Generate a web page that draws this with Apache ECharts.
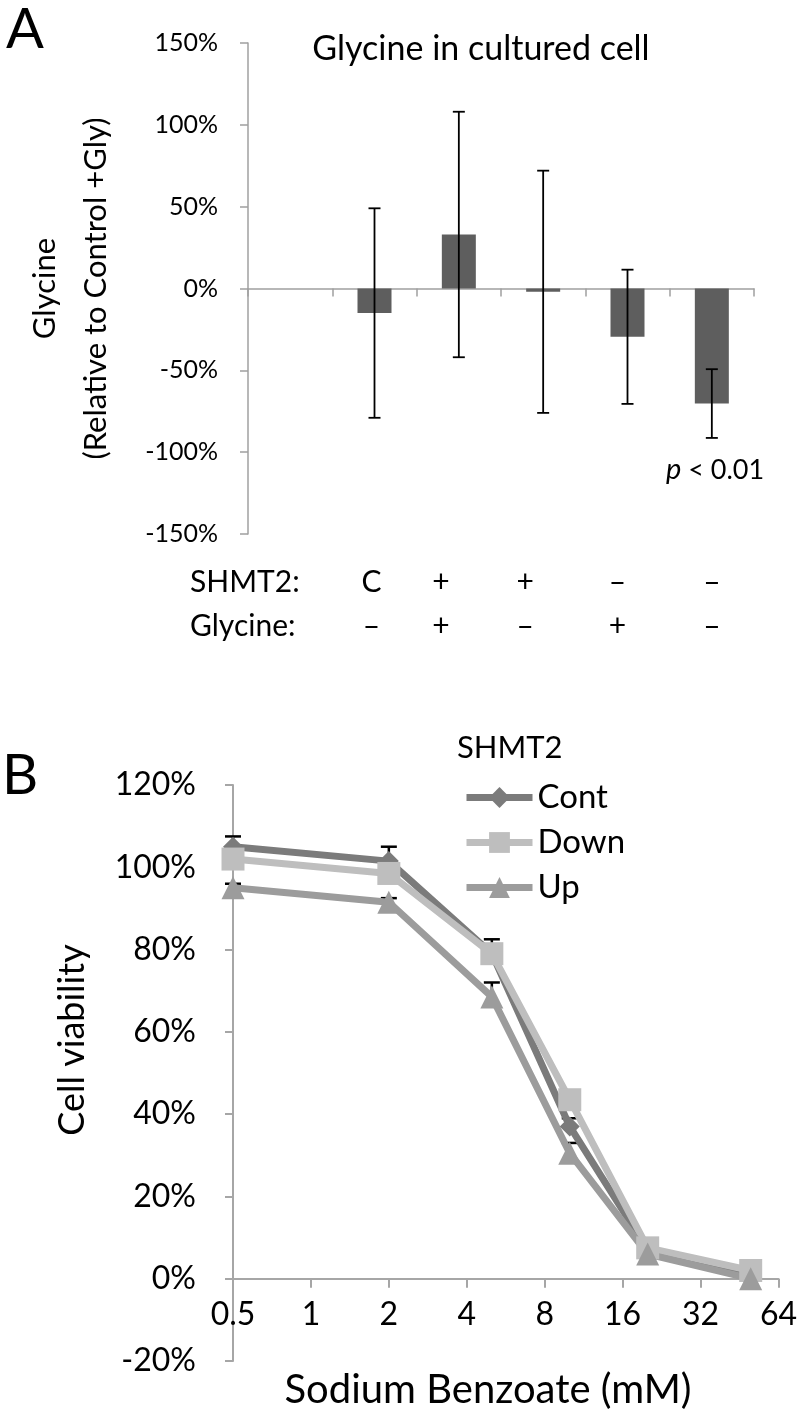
<!DOCTYPE html>
<html><head><meta charset="utf-8">
<script src="https://cdn.jsdelivr.net/npm/echarts@6/dist/echarts.min.js"></script>
<style>html,body{margin:0;padding:0;background:#fff}#c{width:800px;height:1414px}</style>
</head><body><div id="c"></div>
<script>
// ---------- Panel A data ----------
const aCategories = ['blank', 'c1', 'c2', 'c3', 'c4', 'c5'];
const shmt2Row = ['', 'C', '+', '+', '–', '–'];
const glycineRow = ['', '–', '+', '–', '+', '–'];
const aMeans = [0, -15, 33, -2, -29.5, -70.3];
const aErrors = [null, 64, 75, 74, 41, 21];
const aTicks = [-150, -100, -50, 0, 50, 100, 150];

// ---------- Panel B data ----------
const doses = [0.5, 2, 5, 10, 20, 50];
const contVals = [105, 101.5, 79, 37, 7, 0.5];
const downVals = [102, 98.5, 79, 43.5, 7.5, 2];
const upVals = [95, 91.5, 68.5, 30.5, 6, 0];
const contErr = [2.5, 3.5, 3.5, 2, 1, 0.5];
const downErr = [1.5, 1, 1, 1.5, 1, 0.5];
const upErr = [1, 1, 3.5, 2.5, 1, 0.5];

const FONT = 'Lato, "Open Sans", sans-serif';
const chart = echarts.init(document.getElementById('c'), null, {renderer: 'canvas'});

// label shifts (px) for the manually placed condition labels under panel A
const rowShift = [0, -3, -18, -18, -10, 0];

function errRender(capHalf, lw, plusOnly) {
  return function (params, api) {
    const x = api.value(0);
    const lo = api.coord([x, api.value(1)]);
    const hi = api.coord([x, api.value(2)]);
    const st = {stroke: '#000', lineWidth: lw};
    const kids = [
      {type: 'line', shape: {x1: lo[0], y1: lo[1], x2: hi[0], y2: hi[1]}, style: st},
      {type: 'line', shape: {x1: hi[0] - capHalf, y1: hi[1], x2: hi[0] + capHalf, y2: hi[1]}, style: st}
    ];
    if (!plusOnly) kids.push({type: 'line', shape: {x1: lo[0] - capHalf, y1: lo[1], x2: lo[0] + capHalf, y2: lo[1]}, style: st});
    return {type: 'group', children: kids};
  };
}

const aErrData = [];
aMeans.forEach((m, i) => { if (aErrors[i] != null) aErrData.push([i, m - aErrors[i], m + aErrors[i]]); });

function bErrData(vals, errs) {
  return vals.map((v, i) => [doses[i], v, v + errs[i]]);
}

const bSeries = [
  {name: 'Cont', vals: contVals, errs: contErr, color: '#7b7b7b', symbol: 'diamond', size: 20},
  {name: 'Down', vals: downVals, errs: downErr, color: '#bebebe', symbol: 'rect', size: 23},
  {name: 'Up', vals: upVals, errs: upErr, color: '#9c9c9c', symbol: 'triangle', size: 23}
];

const rowRich = {};
rowShift.forEach((d, i) => {
  rowRich['s' + i] = {fontSize: 30, lineHeight: 44, color: '#000', fontFamily: FONT,
    padding: d < 0 ? [0, -2 * d, 0, 0] : [0, 0, 0, 2 * d]};
});

const yMinB = -20, yMaxB = 120, gridBHeight = 576;

const option = {
  animation: false,
  backgroundColor: '#fff',
  textStyle: {fontFamily: FONT},
  grid: [
    {left: 248, top: 43, width: 506, height: 491},
    {left: 233, top: 785, width: 547, height: gridBHeight}
  ],
  xAxis: [
    {
      type: 'category', gridIndex: 0, data: aCategories,
      axisLine: {onZero: true, lineStyle: {color: '#a0a0a0', width: 1.5}},
      axisTick: {show: true, length: 8, inside: false, lineStyle: {color: '#a0a0a0', width: 1.5}},
      axisLabel: {show: false}, splitLine: {show: false}
    },
    {
      type: 'category', gridIndex: 0, position: 'bottom',
      data: shmt2Row.map((s, i) => s + '\n' + glycineRow[i]),
      axisLine: {show: false, onZero: false}, axisTick: {show: false},
      axisLabel: {interval: 0, margin: 26, fontSize: 30, lineHeight: 44, color: '#000', fontFamily: FONT,
        formatter: (v, i) => v.split('\n').map(t => '{s' + i + '|' + t + '}').join('\n'),
        rich: rowRich}
    },
    {
      type: 'log', gridIndex: 1, logBase: 2, min: 0.5, max: 64, splitNumber: 7,
      offset: -gridBHeight * (0 - yMinB) / (yMaxB - yMinB),
      axisLine: {onZero: false, lineStyle: {color: '#a6a6a6', width: 2}},
      axisTick: {show: true, length: 9, lineStyle: {color: '#a6a6a6', width: 2}},
      axisLabel: {margin: 20, fontSize: 32, color: '#000', fontFamily: FONT,
        formatter: v => String(+v.toPrecision(6))},
      splitLine: {show: false}
    }
  ],
  yAxis: [
    {
      type: 'value', gridIndex: 0, min: aTicks[0], max: aTicks[aTicks.length - 1], interval: 50,
      axisLine: {show: true, lineStyle: {color: '#a0a0a0', width: 1.5}},
      axisTick: {show: true, length: 8, lineStyle: {color: '#a0a0a0', width: 1.5}},
      axisLabel: {formatter: '{value}%', fontSize: 25, color: '#000', margin: 30, fontFamily: FONT},
      splitLine: {show: false},
      name: 'Glycine\n(Relative to Control +Gly)', nameLocation: 'middle', nameGap: 127,
      nameRotate: 90,
      nameTextStyle: {fontSize: 31, lineHeight: 51, color: '#000', fontFamily: FONT}
    },
    {
      type: 'value', gridIndex: 1, min: yMinB, max: yMaxB, interval: 20,
      axisLine: {show: true, onZero: false, lineStyle: {color: '#a6a6a6', width: 2}},
      axisTick: {show: true, length: 8, lineStyle: {color: '#a6a6a6', width: 2}},
      axisLabel: {formatter: '{value}%', fontSize: 32, color: '#000', margin: 37, fontFamily: FONT},
      splitLine: {show: false}
    }
  ],
  legend: {
    data: ['Cont', 'Down', 'Up'], orient: 'vertical', left: 458, top: 776,
    itemWidth: 66, itemHeight: 26, itemGap: 12,
    lineStyle: {width: 7},
    textStyle: {fontSize: 33, color: '#000', fontFamily: FONT}
  },
  graphic: [
    {type: 'text', left: 6, top: 2, style: {text: 'A', fontSize: 56, fill: '#000', fontFamily: FONT}},
    {type: 'text', left: 2, top: 748, style: {text: 'B', fontSize: 56, fill: '#000', fontFamily: FONT}},
    {type: 'text', x: 481, y: 49, style: {text: 'Glycine in cultured cell', fontSize: 34, fill: '#000',
      align: 'center', verticalAlign: 'middle', fontFamily: FONT}},
    {type: 'text', x: 715, y: 470, style: {text: '{p|p} < 0.01', align: 'center', verticalAlign: 'middle',
      fontSize: 27, fill: '#000', fontFamily: FONT,
      rich: {p: {fontStyle: 'italic', fontSize: 29, fontFamily: FONT}}}},
    {type: 'text', x: 190, y: 582, style: {text: 'SHMT2:', fontSize: 30, fill: '#000', verticalAlign: 'middle', fontFamily: FONT}},
    {type: 'text', x: 190, y: 626, style: {text: 'Glycine:', fontSize: 30, fill: '#000', verticalAlign: 'middle', fontFamily: FONT}},
    {type: 'text', x: 457, y: 748, style: {text: 'SHMT2', fontSize: 31, fill: '#000', verticalAlign: 'middle', fontFamily: FONT}},
    {type: 'text', x: 72, y: 1040, rotation: Math.PI / 2, style: {text: 'Cell viability', fontSize: 36, fill: '#000',
      align: 'center', verticalAlign: 'middle', fontFamily: FONT}},
    {type: 'text', x: 488, y: 1390, style: {text: 'Sodium Benzoate (mM)', fontSize: 40, fill: '#000',
      align: 'center', verticalAlign: 'middle', fontFamily: FONT}}
  ],
  series: [
    {
      type: 'bar', xAxisIndex: 0, yAxisIndex: 0, data: aMeans, barWidth: 34,
      itemStyle: {color: '#5e5e5e'}, z: 2
    },
    {
      type: 'custom', xAxisIndex: 0, yAxisIndex: 0, data: aErrData,
      encode: {x: 0, y: [1, 2]}, renderItem: errRender(6, 1.8, false), z: 5
    }
  ].concat(bSeries.map(s => ({
    type: 'custom', xAxisIndex: 2, yAxisIndex: 1, data: bErrData(s.vals, s.errs),
    encode: {x: 0, y: [1, 2]}, renderItem: errRender(8, 2.5, true), z: 1
  }))).concat(bSeries.map(s => ({
    name: s.name, type: 'line', xAxisIndex: 2, yAxisIndex: 1,
    data: s.vals.map((v, i) => [doses[i], v]),
    symbol: s.symbol, symbolSize: s.size, showSymbol: true,
    lineStyle: {color: s.color, width: 7},
    itemStyle: {color: s.color, borderWidth: 0},
    z: 3
  })))
};
chart.setOption(option);
</script>
</body></html>
